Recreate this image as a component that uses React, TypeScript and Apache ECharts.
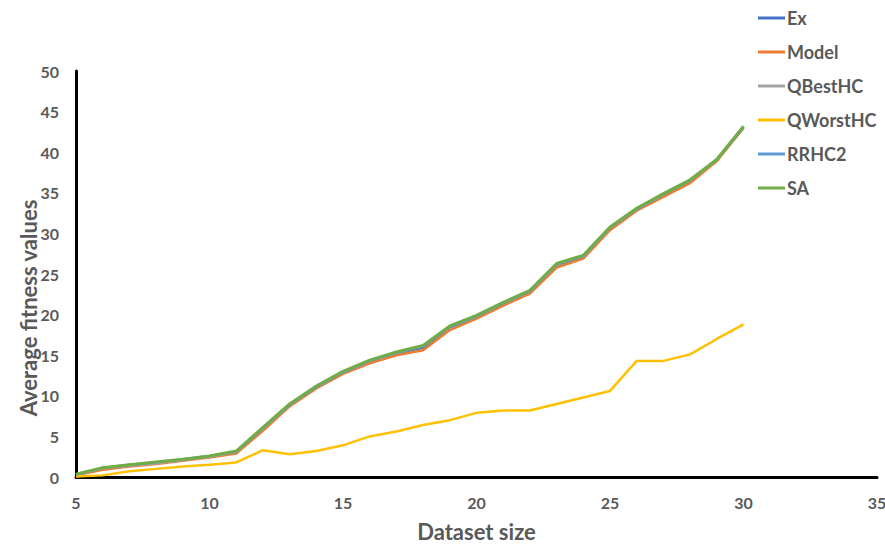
import React, { useEffect, useRef } from "react";
import * as echarts from "echarts";

const datasetSizes = [5, 6, 7, 8, 9, 10, 11, 12, 13, 14, 15, 16, 17, 18, 19, 20, 21, 22, 23, 24, 25, 26, 27, 28, 29, 30];

const exValues = [0.3, 1.0, 1.4, 1.7, 2.1, 2.5, 3.0, 5.9, 8.8, 11.0, 12.8, 14.2, 15.2, 15.9, 18.4, 19.7, 21.2, 22.8, 26.1, 27.1, 30.6, 32.9, 34.7, 36.4, 39.0, 43.0];
const modelValues = [0.2, 0.9, 1.3, 1.6, 2.0, 2.4, 2.9, 5.7, 8.7, 10.9, 12.7, 14.0, 15.0, 15.6, 18.1, 19.5, 21.1, 22.6, 25.8, 26.9, 30.4, 32.8, 34.5, 36.2, 38.9, 43.0];
const qBestValues = [0.3, 1.1, 1.4, 1.7, 2.1, 2.5, 3.1, 6.0, 8.9, 11.1, 12.9, 14.3, 15.3, 16.1, 18.5, 19.8, 21.4, 22.9, 26.2, 27.2, 30.7, 33.0, 34.8, 36.5, 39.1, 43.1];
const qWorstValues = [0.05, 0.2, 0.7, 1.0, 1.3, 1.5, 1.8, 3.3, 2.8, 3.2, 3.9, 5.0, 5.6, 6.4, 7.0, 7.9, 8.2, 8.2, 9.0, 9.8, 10.6, 14.3, 14.3, 15.1, 17.0, 18.8];
const rrhc2Values = [0.3, 1.1, 1.5, 1.8, 2.2, 2.6, 3.1, 6.0, 8.9, 11.1, 12.9, 14.3, 15.3, 16.1, 18.5, 19.8, 21.4, 22.9, 26.2, 27.2, 30.7, 33.0, 34.8, 36.5, 39.1, 43.1];
const saValues = [0.35, 1.15, 1.5, 1.85, 2.2, 2.6, 3.2, 6.1, 9.0, 11.2, 13.0, 14.4, 15.4, 16.2, 18.6, 19.9, 21.5, 23.0, 26.3, 27.3, 30.8, 33.1, 34.9, 36.6, 39.1, 43.2];

const seriesNames = ["Ex", "Model", "QBestHC", "QWorstHC", "RRHC2", "SA"];
const seriesColors = ["#4472C4", "#ED7D31", "#A5A5A5", "#FFC000", "#5B9BD5", "#70AD47"];
const seriesWidths = [2.5, 2.5, 2.5, 2.5, 2.5, 3];
const seriesData = [exValues, modelValues, qBestValues, qWorstValues, rrhc2Values, saValues];

const FONT = "Lato, 'Open Sans', sans-serif";
const TEXT_COLOR = "#595959";

export default function App() {
  const ref = useRef<HTMLDivElement>(null);

  useEffect(() => {
    if (!ref.current) return;
    const chart = echarts.init(ref.current, undefined, { renderer: "svg" });
    chart.setOption({
      animation: false,
      backgroundColor: "#ffffff",
      textStyle: { fontFamily: FONT },
      grid: { left: 76, top: 71, width: 801, height: 406, containLabel: false, outerBoundsMode: "none" },
      legend: {
        orient: "vertical",
        left: 758,
        top: 8,
        padding: 0,
        itemGap: 14,
        itemWidth: 27,
        itemHeight: 20,
        data: seriesNames.map((n) => ({ name: n, icon: "path://M0,9 L27,9 L27,12 L0,12 Z" })),
        textStyle: { fontSize: 18, lineHeight: 20, fontWeight: "bold", color: TEXT_COLOR, fontFamily: FONT, padding: [0, 0, 0, -3] },
      },
      xAxis: {
        type: "value",
        min: 5,
        max: 35,
        interval: 5,
        name: "Dataset size",
        nameLocation: "middle",
        nameGap: 43,
        nameTextStyle: { fontSize: 22, fontWeight: "bold", color: TEXT_COLOR, fontFamily: FONT },
        axisLine: { show: true, lineStyle: { color: "#000000", width: 3 } },
        axisTick: { show: false },
        splitLine: { show: false },
        axisLabel: { fontSize: 16, fontWeight: "bold", color: TEXT_COLOR, margin: 17, fontFamily: FONT },
      },
      yAxis: {
        type: "value",
        min: 0,
        max: 50,
        interval: 5,
        axisLine: { show: true, lineStyle: { color: "#000000", width: 3 } },
        axisTick: { show: false },
        splitLine: { show: false },
        axisLabel: { fontSize: 16, fontWeight: "bold", color: TEXT_COLOR, margin: 17, fontFamily: FONT },
      },
      graphic: [
        {
          type: "text",
          x: 28,
          y: 308,
          rotation: Math.PI / 2,
          style: {
            text: "Average fitness values",
            fontSize: 22,
            fontWeight: "bold",
            fill: TEXT_COLOR,
            fontFamily: FONT,
            align: "center",
            verticalAlign: "middle",
          },
        },
      ],
      series: seriesNames.map((name, i) => ({
        name,
        type: "line",
        data: datasetSizes.map((x, j) => [x, seriesData[i][j]]),
        showSymbol: false,
        symbol: "none",
        color: seriesColors[i],
        lineStyle: { color: seriesColors[i], width: seriesWidths[i] },
        z: 2 + i,
      })),
    });
    return () => chart.dispose();
  }, []);

  return <div ref={ref} style={{ position: "absolute", left: 0, top: 0, width: 885, height: 545 }} />;
}
